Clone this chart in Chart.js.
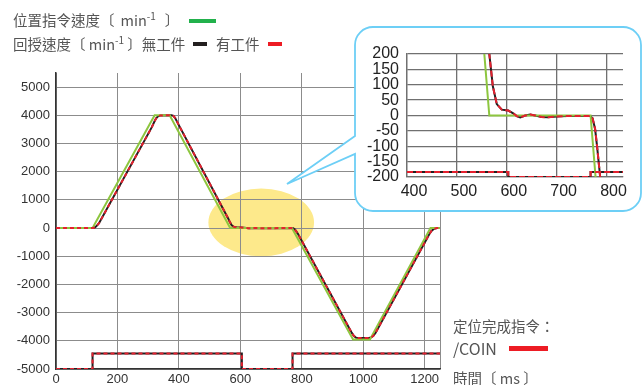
<!DOCTYPE html>
<html>
<head>
<meta charset="utf-8">
<script src="https://cdn.jsdelivr.net/npm/chart.js@4.4.1/dist/chart.umd.min.js"></script>
<style>
html, body { margin: 0; padding: 0; background: #fff; }
#wrap { position: relative; width: 644px; height: 385px; overflow: hidden; font-family: "Noto Sans CJK TC", sans-serif; color: #555; }
#main, #callout, #zoomBox { position: absolute; }
#main { left: 0; top: 0; }
#callout { left: 0; top: 0; }
#zoomBox { left: 355px; top: 27px; }
.lbl { position: absolute; white-space: nowrap; font-size: 14.5px; line-height: 1; }
.lbl sup { font-size: 10px; vertical-align: 6px; line-height: 0; }
.bar { position: absolute; }
</style>
</head>
<body>
<div id="wrap">
  <canvas id="main" width="644" height="385"></canvas>
  <svg id="callout" width="644" height="385">
    <path d="M373 27 H623 A18 18 0 0 1 641 45 V193 A18 18 0 0 1 623 211 H373 A18 18 0 0 1 355 193 V154 L287 184 L355 136 V45 A18 18 0 0 1 373 27 Z"
          fill="#fff" stroke="#6dcff6" stroke-width="1.8"/>
  </svg>
  <canvas id="zoomBox" width="285" height="184"></canvas>

  <div class="lbl" style="left:13px;top:13px;">位置指令速度〔<span style="padding:0 9px 0 6px;">min<sup>-1</sup></span>〕</div>
  <div class="bar" style="left:189px;top:19px;width:27px;height:4px;background:#22b14c;"></div>
  <div class="lbl" style="left:13px;top:37px;">回授速度〔 min<sup>-1</sup> 〕無工件</div>
  <div class="bar" style="left:193px;top:42px;width:14px;height:4px;background:#231f20;"></div>
  <div class="lbl" style="left:216px;top:37px;">有工件</div>
  <div class="bar" style="left:268px;top:42px;width:14px;height:4px;background:#ed1c24;"></div>

  <div class="lbl" style="left:453px;top:319px;">定位完成指令：</div>
  <div class="lbl" style="left:453px;top:340px;font-size:16px;">/COIN</div>
  <div class="bar" style="left:509px;top:346px;width:39px;height:5px;background:#ed1c24;"></div>
  <div class="lbl" style="left:453px;top:371px;">時間〔 ms 〕</div>
</div>

<script>
// main chart data (ms / min-1)
const cmdTime  = [0, 119, 321, 370, 567, 768, 967, 1022, 1219, 1250];
const cmdSpeed = [0, 0, 4000, 4000, 0, 0, -3950, -3950, 0, 0];

const fbTime  = [0, 120, 126, 132, 140, 312, 320, 326, 332, 340, 376, 382, 388, 396,
                 560, 566, 572, 580, 590, 603, 613, 627, 647, 670, 683, 700, 767, 772, 777, 781, 787,
                 955, 963, 970, 977, 985, 1019, 1026, 1033, 1040, 1215, 1222, 1230, 1240, 1250];
const fbSpeed = [0, 0, 20, 70, 170, 3580, 3770, 3890, 3960, 3995, 4000, 3980, 3900, 3730,
                 350, 210, 100, 37, 19, 16, 7, -6, 3, -5, -6, -3, -2, -9, -43, -100, -196,
                 -3560, -3720, -3830, -3890, -3900, -3900, -3880, -3820, -3720, -220, -100, -30, 0, 0];

const coinTime  = [0, 119, 605, 770, 1250];
const coinLevel = [-5000, -4450, -5000, -4450, -4450];

const xTicks = [0, 200, 400, 600, 800, 1000, 1200];
const yTicks = [-5000, -4000, -3000, -2000, -1000, 0, 1000, 2000, 3000, 4000, 5000];

// zoomed view 400-800 ms
const zoomCmdTime  = [520, 565, 768, 790];
const zoomCmdSpeed = [900, 0, 0, -440];

const zoomFbTime  = [540, 565, 572, 580, 590, 603, 613, 620, 627, 637, 647, 657, 670, 683, 700, 720, 753, 767, 772, 777, 781, 787, 795];
const zoomFbSpeed = [700, 200, 96, 37, 19, 16, 7, -2, -6, 0, 3, 0, -5, -6, -3, -2, -2, -2, -9, -43, -100, -196, -360];

const zoomCoinTime  = [400, 603, 768, 833];
const zoomCoinLevel = [-184, -200, -184, -184];

const zoomXTicks = [400, 500, 600, 700, 800];
const zoomYTicks = [-200, -150, -100, -50, 0, 50, 100, 150, 200];

const pts = (t, v) => t.map((x, i) => ({ x: x, y: v[i] }));

const GREEN = '#8dc63f';
const BLACK = '#231f20';
const RED = '#e5202e';

const line = (data, color, order, extra) => Object.assign({
    data: data, borderColor: color, borderWidth: 2, pointRadius: 0, fill: false, order: order
}, extra || {});

// yellow highlight behind the grid
const ellipsePlugin = {
    id: 'ellipse',
    beforeDraw(chart) {
        const { ctx, scales: { x, y } } = chart;
        const cx = x.getPixelForValue(668), cy = y.getPixelForValue(200);
        const rx = x.getPixelForValue(840) - cx, ry = cy - y.getPixelForValue(1400);
        ctx.save();
        ctx.fillStyle = '#fde98b';
        ctx.beginPath();
        ctx.ellipse(cx, cy, rx, ry, 0, 0, Math.PI * 2);
        ctx.fill();
        ctx.restore();
    }
};

new Chart(document.getElementById('main'), {
    type: 'line',
    data: {
        datasets: [
            line(pts(fbTime, fbSpeed), BLACK, 3),
            line(pts(cmdTime, cmdSpeed), GREEN, 2),
            line(pts(fbTime, fbSpeed), RED, 1, { borderDash: [4, 3] }),
            line(pts(coinTime, coinLevel), BLACK, 3, { stepped: true }),
            line(pts(coinTime, coinLevel), RED, 1, { stepped: true, borderDash: [4, 3] })
        ]
    },
    options: {
        responsive: false,
        animation: false,
        layout: { padding: { left: 0, right: 204, top: 73, bottom: 0 } },
        plugins: { legend: { display: false }, tooltip: { enabled: false } },
        scales: {
            x: {
                type: 'linear', min: 0, max: 1250,
                afterBuildTicks: s => { s.ticks = xTicks.concat([1250]).map(v => ({ value: v })); },
                afterFit: s => { s.height = 16; },
                grid: { color: '#8c8c8c', lineWidth: 1, drawTicks: false },
                border: { color: '#333', width: 1.5 },
                ticks: { padding: 3, color: '#333', font: { family: 'Liberation Sans', size: 13 },
                         maxRotation: 0, autoSkip: false, callback: v => v === 1250 ? '' : String(v) }
            },
            y: {
                min: -5000, max: 5500,
                afterBuildTicks: s => { s.ticks = yTicks.map(v => ({ value: v })); },
                afterFit: s => { s.width = 56; },
                grid: { color: '#8c8c8c', lineWidth: 1, drawTicks: false },
                border: { color: '#333', width: 1.5 },
                ticks: { padding: 6, color: '#333', font: { family: 'Liberation Sans', size: 13 },
                         autoSkip: false, callback: v => String(v) }
            }
        }
    },
    plugins: [ellipsePlugin]
});

new Chart(document.getElementById('zoomBox'), {
    type: 'line',
    data: {
        datasets: [
            line(pts(zoomFbTime, zoomFbSpeed), BLACK, 3),
            line(pts(zoomCmdTime, zoomCmdSpeed), GREEN, 2),
            line(pts(zoomFbTime, zoomFbSpeed), RED, 1, { borderDash: [6, 3] }),
            line(pts(zoomCoinTime, zoomCoinLevel), BLACK, 3, { stepped: true }),
            line(pts(zoomCoinTime, zoomCoinLevel), RED, 1, { stepped: true, borderDash: [6, 3] })
        ]
    },
    options: {
        responsive: false,
        animation: false,
        layout: { padding: { left: 0, right: 17, top: 27, bottom: 0 } },
        plugins: { legend: { display: false }, tooltip: { enabled: false } },
        scales: {
            x: {
                type: 'linear', min: 400, max: 833,
                afterBuildTicks: s => { s.ticks = zoomXTicks.map(v => ({ value: v })); },
                afterFit: s => { s.height = 34; },
                grid: { color: '#707070', lineWidth: 1.3, drawTicks: false },
                border: { color: '#707070', width: 1.3 },
                ticks: { padding: 5, labelOffset: 7, color: '#222', font: { family: 'Liberation Sans', size: 16 },
                         maxRotation: 0, autoSkip: false, callback: v => String(v) }
            },
            y: {
                min: -200, max: 200,
                afterBuildTicks: s => { s.ticks = zoomYTicks.map(v => ({ value: v })); },
                afterFit: s => { s.width = 52; },
                grid: { color: '#707070', lineWidth: 1.3, drawTicks: false },
                border: { color: '#707070', width: 1.3 },
                ticks: { padding: 8, color: '#222', font: { family: 'Liberation Sans', size: 16 },
                         autoSkip: false, callback: v => String(v) }
            }
        }
    }
});
</script>
</body>
</html>
